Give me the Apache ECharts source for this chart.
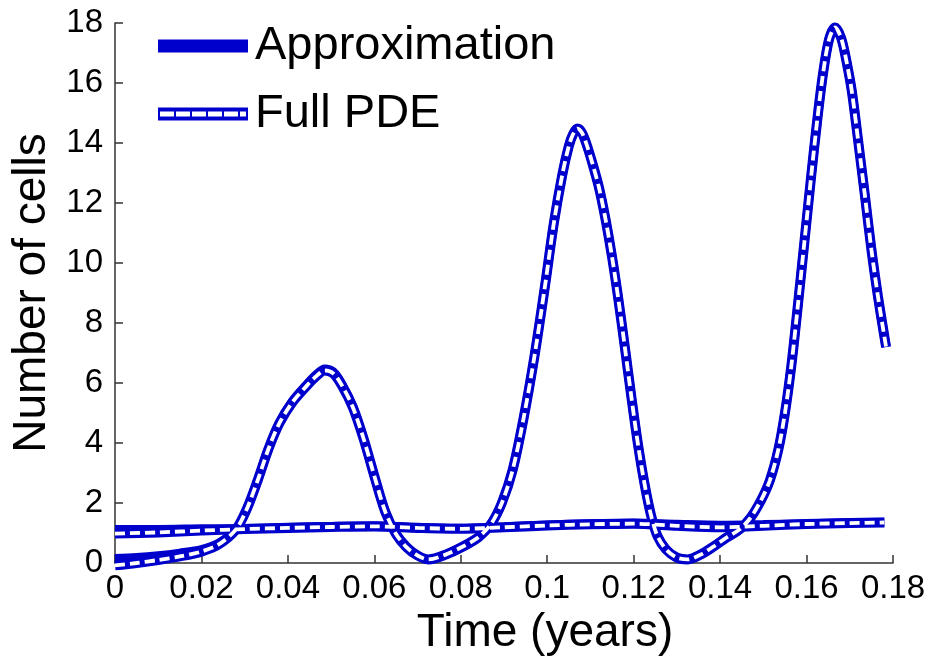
<!DOCTYPE html>
<html>
<head>
<meta charset="utf-8">
<script src="https://cdn.jsdelivr.net/npm/echarts@6/dist/echarts.min.js"></script>
<style>
  html, body { margin: 0; padding: 0; background: #fff; }
  #chart { width: 946px; height: 657px; }
</style>
</head>
<body>
<div id="chart"></div>
<script>
// Oscillating population: time (years) and cell counts
const timeOsc = [0, 0.005, 0.01, 0.015, 0.02, 0.024, 0.028, 0.0305, 0.033, 0.0355,
  0.038, 0.041, 0.0445, 0.0465, 0.0485, 0.0505, 0.0525, 0.055, 0.0575, 0.06,
  0.0625, 0.065, 0.0675, 0.07, 0.0725, 0.0765, 0.0805, 0.084, 0.087, 0.0895,
  0.092, 0.0945, 0.097, 0.0995, 0.1015, 0.1035, 0.105, 0.106, 0.107, 0.108,
  0.109, 0.1105, 0.112, 0.1135, 0.115, 0.1165, 0.118, 0.1195, 0.121, 0.1225,
  0.124, 0.1255, 0.1275, 0.13, 0.1325, 0.1355, 0.1385, 0.1415, 0.1445, 0.147,
  0.1495, 0.1515, 0.1535, 0.155, 0.1565, 0.158, 0.1595, 0.161, 0.1625, 0.1638,
  0.1652, 0.1666, 0.168, 0.1692, 0.1705, 0.172, 0.1735, 0.175, 0.1765, 0.1784];
const pdeOsc = [-0.08, 0.0, 0.1, 0.22, 0.38, 0.62, 1.12, 1.8, 2.75, 3.8,
  4.65, 5.35, 5.93, 6.22, 6.42, 6.32, 5.92, 5.2, 4.15, 2.9,
  1.72, 0.97, 0.52, 0.25, 0.12, 0.28, 0.55, 0.85, 1.3, 2.0,
  3.1, 4.8, 6.85, 9.25, 11.3, 12.95, 13.9, 14.3, 14.48, 14.35,
  14.0, 13.3, 12.5, 11.45, 10.2, 8.75, 7.15, 5.5, 3.95, 2.65,
  1.6, 0.9, 0.45, 0.18, 0.12, 0.28, 0.55, 0.85, 1.12, 1.5,
  2.1, 2.75, 3.8, 5.0, 6.6, 8.6, 10.7, 12.8, 14.8, 16.3,
  17.45, 17.85, 17.5, 16.75, 15.7, 14.0, 12.25, 10.45, 8.9, 7.2];
const approxOsc = [0.15, 0.18, 0.24, 0.33, 0.45, 0.66, 1.12, 1.8, 2.75, 3.8,
  4.67, 5.38, 5.97, 6.27, 6.47, 6.37, 5.96, 5.22, 4.15, 2.9,
  1.72, 0.97, 0.52, 0.25, 0.12, 0.28, 0.55, 0.85, 1.3, 2.0,
  3.1, 4.8, 6.85, 9.25, 11.3, 12.95, 13.9, 14.3, 14.48, 14.35,
  14.0, 13.3, 12.5, 11.45, 10.2, 8.75, 7.15, 5.5, 3.95, 2.65,
  1.6, 0.9, 0.45, 0.18, 0.12, 0.28, 0.55, 0.85, 1.12, 1.5,
  2.1, 2.75, 3.8, 5.0, 6.6, 8.6, 10.7, 12.8, 14.8, 16.3,
  17.45, 17.85, 17.5, 16.75, 15.7, 14.0, 12.25, 10.45, 8.9, 7.2];

// Slowly varying population
const timeFlat = [0, 0.01, 0.02, 0.03, 0.04, 0.05, 0.06, 0.07, 0.08, 0.09,
  0.1, 0.11, 0.12, 0.13, 0.14, 0.15, 0.16, 0.17, 0.178];
const pdeFlat = [0.98, 1.02, 1.08, 1.13, 1.17, 1.2, 1.22, 1.17, 1.14, 1.19,
  1.25, 1.29, 1.31, 1.24, 1.19, 1.24, 1.3, 1.33, 1.35];
const approxFlat = [1.12, 1.12, 1.14, 1.15, 1.19, 1.22, 1.24, 1.19, 1.16, 1.21,
  1.27, 1.31, 1.33, 1.29, 1.26, 1.28, 1.31, 1.34, 1.36];

const xTicks = { min: 0, max: 0.18, interval: 0.02 };
const yTicks = { min: 0, max: 18, interval: 2 };

const BLUE = '#0000cc';
const FONT = 'Liberation Sans, Arial, sans-serif';
const pairs = (ts, ys) => ts.map((t, i) => [t, ys[i]]);

const pdeIcon = 'path://M0 0H90V4H0Z M0 9H90V13H0Z M0 4H2V9H0Z M16 4H18V9H16Z ' +
  'M32 4H34V9H32Z M48 4H50V9H48Z M64 4H66V9H64Z M80 4H82V9H80Z M88 4H90V9H88Z';

function curve(name, ts, ys, width, color, dashed) {
  return {
    name: name,
    type: 'line',
    data: pairs(ts, ys),
    smooth: 0.3,
    showSymbol: false,
    symbol: 'none',
    clip: false,
    itemStyle: { color: BLUE },
    lineStyle: { color: color, width: width, type: dashed ? [10, 5] : 'solid', cap: 'butt' }
  };
}

const chart = echarts.init(document.getElementById('chart'));
chart.setOption({
  animation: false,
  backgroundColor: '#fff',
  textStyle: { fontFamily: FONT },
  grid: { left: 115, right: 53, top: 23, bottom: 94, outerBoundsMode: 'none' },
  legend: {
    orient: 'vertical',
    left: 153,
    top: 16,
    itemWidth: 90,
    itemHeight: 13,
    itemGap: 18,
    symbolKeepAspect: false,
    textStyle: { fontFamily: FONT, fontSize: 47, color: '#000', lineHeight: 50, padding: [0, 0, 0, 2] },
    data: [
      { name: 'Approximation', icon: 'rect', itemStyle: { color: BLUE } },
      { name: 'Full PDE', icon: pdeIcon, itemStyle: { color: BLUE } }
    ]
  },
  xAxis: {
    type: 'value',
    min: xTicks.min,
    max: xTicks.max,
    interval: xTicks.interval,
    name: 'Time (years)',
    nameLocation: 'middle',
    nameGap: 41,
    nameTextStyle: { fontFamily: FONT, fontSize: 46, color: '#000', padding: [0, 0, 0, 82] },
    axisLine: { lineStyle: { color: '#333', width: 1.5 } },
    axisTick: { inside: true, length: 8, lineStyle: { color: '#333', width: 1.5 } },
    axisLabel: {
      fontFamily: FONT, fontSize: 33, color: '#000', margin: 9,
      formatter: (v) => String(+v.toFixed(2))
    },
    splitLine: { show: false }
  },
  yAxis: {
    type: 'value',
    min: yTicks.min,
    max: yTicks.max,
    interval: yTicks.interval,
    name: 'Number of cells',
    nameLocation: 'middle',
    nameGap: 48,
    nameTextStyle: { fontFamily: FONT, fontSize: 46, color: '#000' },
    axisLine: { lineStyle: { color: '#333', width: 1.5 } },
    axisTick: { inside: true, length: 8, lineStyle: { color: '#333', width: 1.5 } },
    axisLabel: { fontFamily: FONT, fontSize: 33, color: '#000', margin: 12 },
    splitLine: { show: false }
  },
  series: [
    curve('Approximation', timeOsc, approxOsc, 9, BLUE, false),
    curve('Approximation', timeFlat, approxFlat, 9, BLUE, false),
    curve('Full PDE', timeOsc, pdeOsc, 10, BLUE, false),
    curve('Full PDE', timeFlat, pdeFlat, 10, BLUE, false),
    curve('Full PDE', timeOsc, pdeOsc, 3.8, '#fff', true),
    curve('Full PDE', timeFlat, pdeFlat, 3.8, '#fff', true)
  ]
});
</script>
</body>
</html>
